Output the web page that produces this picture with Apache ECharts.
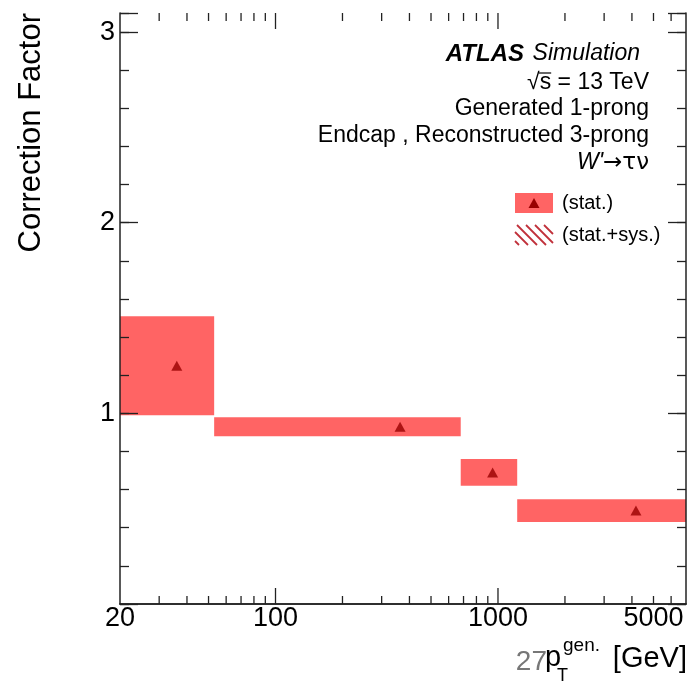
<!DOCTYPE html>
<html>
<head>
<meta charset="utf-8">
<script src="https://cdn.jsdelivr.net/npm/echarts@6/dist/echarts.min.js"></script>
<style>
  html, body { margin: 0; padding: 0; background: #fff; }
  #chart { width: 689px; height: 684px; }
</style>
</head>
<body>
<div id="chart"></div>
<script>
// Generated-pT bins (GeV) for the endcap, 1-prong -> 3-prong correction
const binLow = [20, 53, 680, 1220];
const binHigh = [53, 680, 1220, 7000];
const binCenter = [36, 363, 946, 4170];
const corrFactor = [1.25, 0.93, 0.69, 0.49];
const statErr = [0.26, 0.05, 0.07, 0.06];

// Axis ticks and labels
const xMajorTicks = [100, 1000];
const xMinorTicks = [30, 40, 50, 60, 70, 80, 90, 200, 300, 400, 500, 600, 700, 800, 900, 2000, 3000, 4000, 5000, 6000];
const xTickLabels = [20, 100, 1000, 5000];
const yTickLabels = [1, 2, 3];

const X_MIN = 20, X_MAX = 7000;
const Y_MIN = 0, Y_MAX = 3.1;
const FONT = '"Liberation Sans", Arial, Helvetica, sans-serif';
const AXIS_COLOR = '#222';
const BOX_COLOR = '#ff6464';
const MARKER_COLOR = '#990000';
const HATCH_COLOR = '#c0303a';

const chart = echarts.init(document.getElementById('chart'), null, { renderer: 'canvas' });

// Text width helper for placing the radical bar
const measureCtx = document.createElement('canvas').getContext('2d');
function textWidth(str, size, style) {
  measureCtx.font = (style || '') + ' ' + size + 'px ' + FONT;
  return measureCtx.measureText(str).width;
}

const yBase = {
  type: 'value', min: Y_MIN, max: Y_MAX,
  splitLine: { show: false },
  axisLine: { show: false }
};
const tickStyle = { color: AXIS_COLOR, width: 1.3 };

// Legend: filled box (stat.) and hatched box (stat.+sys.)
const legendBox = { x: 515, y: 193, w: 38, h: 20 };
const hatchBox = { x: 515, y: 225, w: 38, h: 20 };
const hatchLines = [];
for (let k = -hatchBox.h + 4; k < hatchBox.w; k += 9) {
  // line x = hatchBox.x + k + t, y = hatchBox.y + t, clipped to the box
  const t0 = Math.max(0, -k);
  const t1 = Math.min(hatchBox.h, hatchBox.w - k);
  if (t1 - t0 < 3) continue;
  hatchLines.push({
    type: 'line',
    shape: { x1: hatchBox.x + k + t0, y1: hatchBox.y + t0, x2: hatchBox.x + k + t1, y2: hatchBox.y + t1 },
    style: { stroke: HATCH_COLOR, lineWidth: 1.8 }
  });
}

const sqrtLabel = '\u221As = 13 TeV';
const sqrtRight = 649, sqrtY = 83, infoSize = 23;
const sqrtStart = sqrtRight - textWidth(sqrtLabel, infoSize);
const radW = textWidth('\u221A', infoSize);
const sW = textWidth('s', infoSize);

const option = {
  animation: false,
  backgroundColor: '#fff',
  grid: { left: 120, right: 3, top: 13, bottom: 80, show: false },
  xAxis: [
    {
      type: 'log', logBase: 10, min: X_MIN, max: X_MAX, position: 'bottom', z: 10,
      axisLine: { show: true, lineStyle: { color: AXIS_COLOR, width: 1.5 } },
      axisTick: { show: false }, axisLabel: { show: false }, splitLine: { show: false }
    },
    {
      type: 'log', logBase: 10, min: X_MIN, max: X_MAX, position: 'top', z: 10,
      axisLine: { show: true, lineStyle: { color: AXIS_COLOR, width: 1.5 } },
      axisTick: { show: false }, axisLabel: { show: false }, splitLine: { show: false }
    }
  ],
  yAxis: [
    Object.assign({}, yBase, {
      position: 'left', interval: 1, z: 10,
      axisLine: { show: true, lineStyle: { color: AXIS_COLOR, width: 1.5 } },
      axisTick: { show: true, inside: true, length: 18, lineStyle: tickStyle },
      axisLabel: {
        show: true, margin: 5, fontSize: 27, color: '#000', fontFamily: FONT,
        formatter: v => (yTickLabels.indexOf(v) >= 0 ? String(v) : '')
      }
    }),
    Object.assign({}, yBase, {
      position: 'left', interval: 0.2, z: 10,
      axisTick: { show: true, inside: true, length: 9, lineStyle: tickStyle },
      axisLabel: { show: false }
    }),
    Object.assign({}, yBase, {
      position: 'right', interval: 1, z: 10,
      axisLine: { show: true, lineStyle: { color: AXIS_COLOR, width: 1.5 } },
      axisTick: { show: true, inside: true, length: 18, lineStyle: tickStyle },
      axisLabel: { show: false }
    }),
    Object.assign({}, yBase, {
      position: 'right', interval: 0.2, z: 10,
      axisTick: { show: true, inside: true, length: 9, lineStyle: tickStyle },
      axisLabel: { show: false }
    })
  ],
  series: [
    {
      // statistical uncertainty boxes
      name: '(stat.)',
      type: 'custom',
      xAxisIndex: 0, yAxisIndex: 0,
      clip: true,
      silent: true,
      z: 2,
      encode: { x: [0, 1], y: 2 },
      data: binLow.map((lo, i) => [lo, binHigh[i], corrFactor[i], statErr[i]]),
      renderItem(params, api) {
        const p0 = api.coord([api.value(0), api.value(2) + api.value(3)]);
        const p1 = api.coord([api.value(1), api.value(2) - api.value(3)]);
        return {
          type: 'rect',
          shape: { x: p0[0], y: p0[1], width: p1[0] - p0[0], height: p1[1] - p0[1] },
          style: { fill: BOX_COLOR }
        };
      }
    },
    {
      // central values
      name: 'Correction factor',
      type: 'scatter',
      xAxisIndex: 0, yAxisIndex: 0,
      symbol: 'triangle',
      symbolSize: [11, 10],
      silent: true,
      z: 5,
      itemStyle: { color: MARKER_COLOR },
      data: binCenter.map((x, i) => [x, corrFactor[i]])
    },
    {
      // log-axis tick marks on the bottom and top edges
      type: 'custom',
      xAxisIndex: 0, yAxisIndex: 0,
      clip: false,
      silent: true,
      z: 10,
      data: xMajorTicks.map(v => [v, 1]).concat(xMinorTicks.map(v => [v, 0])),
      renderItem(params, api) {
        const v = api.value(0);
        const len = api.value(1) ? 16 : 8;
        const b = api.coord([v, Y_MIN]);
        const t = api.coord([v, Y_MAX]);
        return {
          type: 'group',
          children: [
            { type: 'line', shape: { x1: b[0], y1: b[1], x2: b[0], y2: b[1] - len }, style: { stroke: AXIS_COLOR, lineWidth: 1.3 } },
            { type: 'line', shape: { x1: t[0], y1: t[1], x2: t[0], y2: t[1] + len }, style: { stroke: AXIS_COLOR, lineWidth: 1.3 } }
          ]
        };
      }
    },
    {
      // x tick labels
      type: 'custom',
      xAxisIndex: 0, yAxisIndex: 0,
      clip: false,
      silent: true,
      z: 10,
      data: xTickLabels.map(v => [v]),
      renderItem(params, api) {
        const v = api.value(0);
        const p = api.coord([v, Y_MIN]);
        return {
          type: 'text',
          style: {
            x: p[0], y: p[1] + 15, text: String(v),
            fontSize: 27, fontFamily: FONT, fill: '#000',
            align: 'center', verticalAlign: 'middle'
          }
        };
      }
    }
  ],
  graphic: [
    // y-axis title
    {
      type: 'text', x: 31, y: 13, rotation: Math.PI / 2,
      style: { text: 'Correction Factor', fontSize: 31, fontFamily: FONT, fill: '#000', align: 'right', verticalAlign: 'middle' }
    },
    // x-axis title
    {
      type: 'text', x: 547, y: 662,
      style: { text: '27', fontSize: 28, fontFamily: FONT, fill: '#777', align: 'right', verticalAlign: 'middle' }
    },
    {
      type: 'text', x: 545, y: 658,
      style: { text: 'p', fontSize: 29, fontFamily: FONT, fill: '#000', align: 'left', verticalAlign: 'middle' }
    },
    {
      type: 'text', x: 557, y: 676,
      style: { text: 'T', fontSize: 18, fontFamily: FONT, fill: '#000', align: 'left', verticalAlign: 'middle' }
    },
    {
      type: 'text', x: 563, y: 646,
      style: { text: 'gen.', fontSize: 19, fontFamily: FONT, fill: '#000', align: 'left', verticalAlign: 'middle' }
    },
    {
      type: 'text', x: 687, y: 659,
      style: { text: '[GeV]', fontSize: 29, fontFamily: FONT, fill: '#000', align: 'right', verticalAlign: 'middle' }
    },
    // annotation block
    {
      type: 'text', x: 524, y: 54,
      style: { text: 'ATLAS', fontSize: 24, fontFamily: FONT, fontWeight: 'bold', fontStyle: 'italic', fill: '#000', align: 'right', verticalAlign: 'middle' }
    },
    {
      type: 'text', x: 640, y: 54,
      style: { text: 'Simulation', fontSize: 23, fontFamily: FONT, fontStyle: 'italic', fill: '#000', align: 'right', verticalAlign: 'middle' }
    },
    {
      type: 'text', x: sqrtRight, y: sqrtY,
      style: { text: sqrtLabel, fontSize: infoSize, fontFamily: FONT, fill: '#000', align: 'right', verticalAlign: 'middle' }
    },
    {
      type: 'line',
      shape: { x1: sqrtStart + radW - 1, y1: sqrtY - 10, x2: sqrtStart + radW + sW, y2: sqrtY - 10 },
      style: { stroke: '#000', lineWidth: 1.2 }
    },
    {
      type: 'text', x: 649, y: 109,
      style: { text: 'Generated 1-prong', fontSize: infoSize, fontFamily: FONT, fill: '#000', align: 'right', verticalAlign: 'middle' }
    },
    {
      type: 'text', x: 649, y: 136,
      style: { text: 'Endcap , Reconstructed 3-prong', fontSize: infoSize, fontFamily: FONT, fill: '#000', align: 'right', verticalAlign: 'middle' }
    },
    {
      type: 'text', x: 649, y: 163,
      style: {
        text: '{i|W\'}{n|\u2192\u03C4\u03BD}', align: 'right', verticalAlign: 'middle',
        rich: {
          i: { fontSize: infoSize, fontFamily: FONT, fontStyle: 'italic', fill: '#000' },
          n: { fontSize: infoSize, fontFamily: '"DejaVu Sans", ' + FONT, fill: '#000' }
        }
      }
    },
    // legend
    {
      type: 'rect',
      shape: { x: legendBox.x, y: legendBox.y, width: legendBox.w, height: legendBox.h },
      style: { fill: BOX_COLOR }
    },
    {
      type: 'polygon',
      shape: {
        points: [
          [legendBox.x + legendBox.w / 2, legendBox.y + legendBox.h / 2 - 5],
          [legendBox.x + legendBox.w / 2 + 5.5, legendBox.y + legendBox.h / 2 + 5],
          [legendBox.x + legendBox.w / 2 - 5.5, legendBox.y + legendBox.h / 2 + 5]
        ]
      },
      style: { fill: MARKER_COLOR }
    },
    {
      type: 'text', x: 562, y: legendBox.y + legendBox.h / 2,
      style: { text: '(stat.)', fontSize: 20, fontFamily: FONT, fill: '#000', align: 'left', verticalAlign: 'middle' }
    },
    { type: 'group', children: hatchLines },
    {
      type: 'text', x: 562, y: hatchBox.y + hatchBox.h / 2,
      style: { text: '(stat.+sys.)', fontSize: 20, fontFamily: FONT, fill: '#000', align: 'left', verticalAlign: 'middle' }
    }
  ]
};

chart.setOption(option);
</script>
</body>
</html>
